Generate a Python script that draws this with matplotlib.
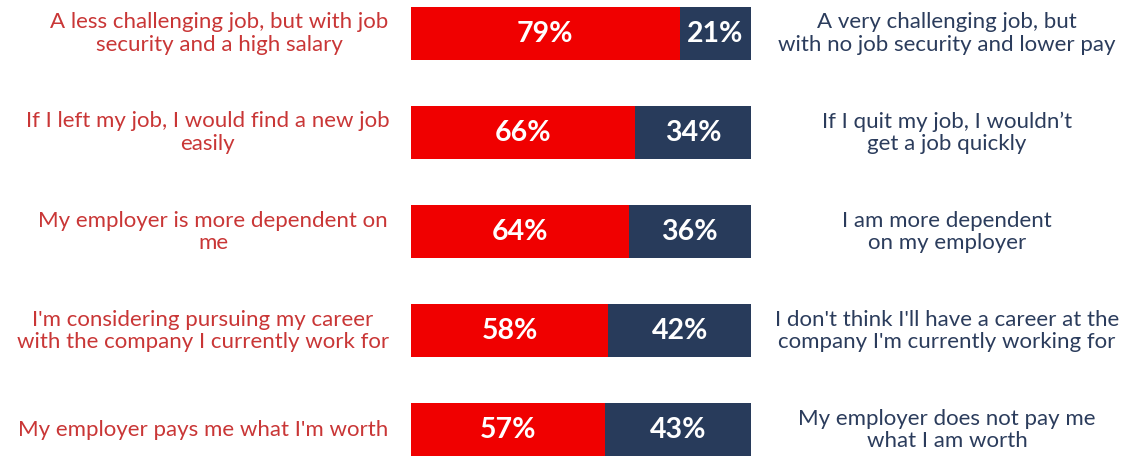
import numpy as np
import matplotlib.pyplot as plt

plt.rcParams['font.family'] = ['Lato', 'DejaVu Sans']

# survey statements (left answer vs right answer) and shares in %
left_labels = [
    "A less challenging job, but with job\nsecurity and a high salary",
    "If I left my job, I would find a new job\neasily",
    "My employer is more dependent on\nme",
    "I'm considering pursuing my career\nwith the company I currently work for",
    "My employer pays me what I'm worth",
]
right_labels = [
    "A very challenging job, but\nwith no job security and lower pay",
    "If I quit my job, I wouldn\u2019t\nget a job quickly",
    "I am more dependent\non my employer",
    "I don't think I'll have a career at the\ncompany I'm currently working for",
    "My employer does not pay me\nwhat I am worth",
]
left_share = [79, 66, 64, 58, 57]
right_share = [21, 34, 36, 42, 43]

red = '#f00000'
navy = '#283b5b'
red_text = '#c93636'
navy_text = '#2b3c5c'

W, H = 1137, 462
fig = plt.figure(figsize=(W / 100, H / 100), dpi=100)

# axes covers the bar block only; text goes outside it
bar_left, bar_right = 411, 751
row0, row_step, bar_h = 33.5, 99.1, 53
ax = fig.add_axes([0, 0, 1, 1])
px = (bar_right - bar_left) / 100.0
ax.set_xlim(-bar_left / px, (W - bar_left) / px)
ax.set_ylim((H - row0) / row_step, -row0 / row_step)
ax.axis('off')

y = np.arange(len(left_share))
ax.barh(y, left_share, height=bar_h / row_step, color=red, linewidth=0)
ax.barh(y, right_share, left=left_share, height=bar_h / row_step,
        color=navy, linewidth=0)

# per-row horizontal centre of the left statement (pixels)
left_cx = [219.5, 207.5, 213, 203, 203]
right_cx = 947

for i in y:
    l, r = left_share[i], right_share[i]
    ax.text(l / 2, i, f"{l}%", ha='center', va='center', color='white',
            fontsize=20.5, fontweight='bold')
    ax.text(l + r / 2, i, f"{r}%", ha='center', va='center', color='white',
            fontsize=20.5, fontweight='bold')
    ax.text((left_cx[i] - bar_left) / px, i, left_labels[i], ha='center',
            va='center', color=red_text, fontsize=16, linespacing=1.15,
            multialignment='center')
    ax.text((right_cx - bar_left) / px, i, right_labels[i], ha='center',
            va='center', color=navy_text, fontsize=16, linespacing=1.15,
            multialignment='center')

fig.savefig('out.png', dpi=100)
